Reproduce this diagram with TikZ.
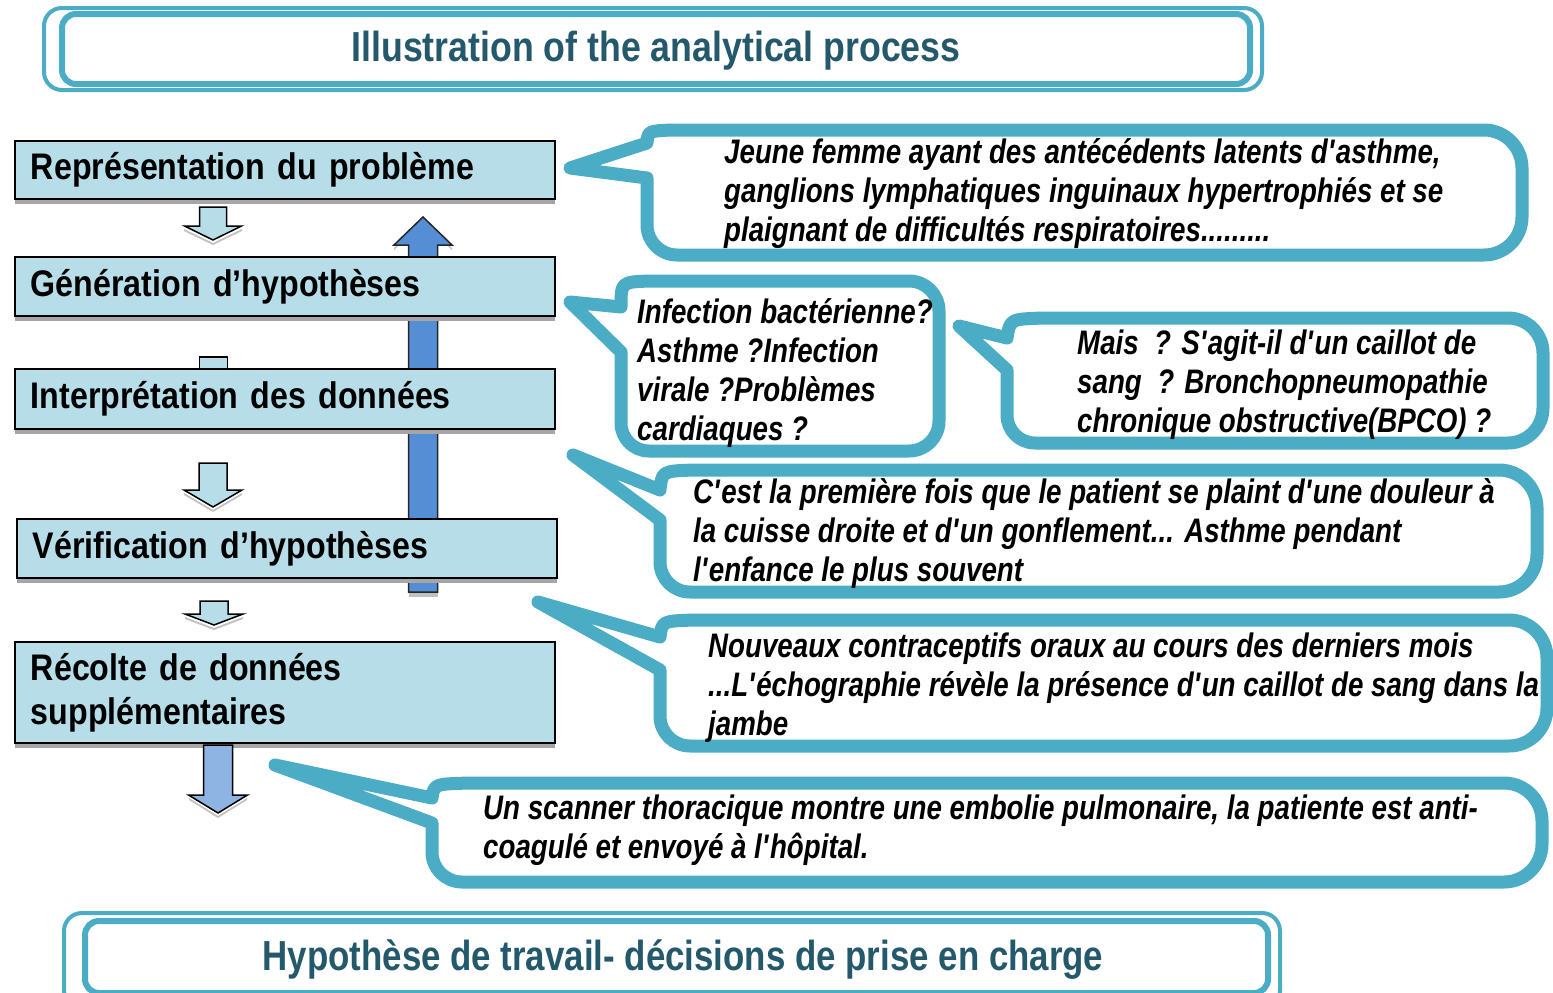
\documentclass[tikz,border=0pt]{standalone}
\usepackage{fontspec}
\usetikzlibrary{shadows}
\newfontfamily\titlefont[FakeStretch=0.85]{Liberation Sans}
\newfontfamily\bottomfont[FakeStretch=0.83]{Liberation Sans}
\newfontfamily\boxfont[FakeStretch=0.87,WordSpace=0.8]{Liberation Sans}
\newfontfamily\callfont[FakeStretch=0.815]{Liberation Sans}
\newcommand{\apos}{\textquotesingle}
\definecolor{boxblue}{HTML}{B7DDE8}
\definecolor{calloutblue}{HTML}{4BACC6}
\definecolor{titleteal}{HTML}{23596B}
\definecolor{arrowblue}{HTML}{558ED5}
\definecolor{arrowlight}{HTML}{8DB4E2}
\definecolor{shadowgray}{HTML}{A6A6A6}
\begin{document}
\begin{tikzpicture}[x=1pt,y=-1pt,
  stepbox/.style={anchor=north west, minimum width=540pt, text width=508pt,
    inner xsep=16pt, inner ysep=0pt, align=left, fill=boxblue, draw=black,
    line width=1.8pt, font=\boxfont\bfseries\fontsize{37}{44}\selectfont,
    drop shadow={shadow xshift=0pt, shadow yshift=-5pt, fill=shadowgray, opacity=1}},
  titletext/.style={inner sep=0pt, text=titleteal, font=\titlefont\bfseries\fontsize{42}{48}\selectfont},
  frameout/.style={draw=calloutblue, line width=4pt, rounded corners=18pt},
  framein/.style={draw=calloutblue, line width=6pt, rounded corners=14pt},
  callout/.style={draw=calloutblue, line width=13pt, fill=white, line join=round},
  calltext/.style={anchor=north west, inner sep=0pt, align=left,
    font=\callfont\bfseries\itshape\fontsize{34}{39}\selectfont},
  downarrow/.style={fill=boxblue, draw=black, line width=1.5pt},
  arrowshadow/.style={fill=shadowgray!70},
  uparrow/.style={fill=arrowblue, draw=black!85, line width=1.5pt}
]
\clip (0,0) rectangle (1553,993);
\fill[white] (0,0) rectangle (1553,993);

% title banner
\draw[frameout] (44,8) rectangle (1262,90);
\draw[framein] (62,14) rectangle (1250,84);
\node[titletext] (title) at (656,51) {Illustration of the analytical process};

% big up arrow (behind boxes)
\fill[arrowshadow] (408.5,592) rectangle (437.5,597);
\fill[arrowshadow] (394,248) -- (423,220) -- (452,248) -- (452,250) -- (423,222) -- (394,250) -- cycle;
\draw[uparrow] (408.5,592) -- (408.5,245) -- (394,245) -- (423,217) -- (452,245) -- (437.5,245) -- (437.5,592) -- cycle;

% stub of hidden arrow
\draw[downarrow] (199.5,357) rectangle (227.5,375);

% left boxes
\node[stepbox, minimum height=58pt] (b1) at (14,140) {Représentation du problème};
\node[stepbox, minimum height=59pt] (b2) at (14,256) {Génération d’hypothèses};
\node[stepbox, minimum height=60pt] (b3) at (14,368) {Interprétation des données};
\node[stepbox, minimum height=59pt] (b4) at (16,518) {Vérification d’hypothèses};
\node[stepbox, minimum height=101pt] (b5) at (14,641) {Récolte de données\\supplémentaires};

% hollow down arrows
\fill[arrowshadow] (184,229) -- (213,243) -- (242,229) -- (242,231) -- (213,245) -- (184,231) -- cycle;
\draw[downarrow] (199.5,207) -- (226.5,207) -- (226.5,226) -- (241.5,226) -- (213,240) -- (184.5,226) -- (199.5,226) -- cycle;
\fill[arrowshadow] (184,493) -- (213,510) -- (242,493) -- (242,495) -- (213,512) -- (184,495) -- cycle;
\draw[downarrow] (199,463) -- (227,463) -- (227,490) -- (242,490) -- (213,507) -- (184,490) -- (199,490) -- cycle;
\fill[arrowshadow] (185,617) -- (214,628) -- (243,617) -- (243,619) -- (214,630) -- (185,619) -- cycle;
\draw[downarrow] (200,601) -- (228,601) -- (228,614) -- (243,614) -- (214,625) -- (185,614) -- (200,614) -- cycle;
\fill[arrowshadow] (189,798) -- (218,816) -- (247,798) -- (247,800) -- (218,818) -- (189,800) -- cycle;
\draw[downarrow, fill=arrowlight] (203.5,745) -- (232.5,745) -- (232.5,795) -- (247.5,795) -- (218,813) -- (188.5,795) -- (203.5,795) -- cycle;

% callouts
\draw[callout, rounded corners=30pt] (1000,255) -- (647,255) [sharp corners] -- (647,178) -- (570,168) -- (647,143) .. controls (648,131) .. (672,130) [rounded corners=38pt] -- (1522,130) -- (1522,255) -- cycle;
\draw[callout, rounded corners=28pt] (780,451) -- (621,451) [sharp corners] -- (621,352) -- (570,302) -- (621,307) .. controls (621,282) .. (650,281) [rounded corners=30pt] -- (939,281) -- (939,451) -- cycle;
\draw[callout, rounded corners=28pt] (1300,443) -- (1007,443) [sharp corners] -- (1007,370) -- (959,326) -- (1007,338) .. controls (1010,319) .. (1045,318) [rounded corners=35pt] -- (1543,318) -- (1543,443) -- cycle;
\draw[callout, rounded corners=30pt] (1100,592) -- (660,592) [sharp corners] -- (660,520) -- (573,455) -- (660,490) .. controls (662,471) .. (695,470) [rounded corners=38pt] -- (1537,470) -- (1537,592) -- cycle;
\draw[callout, rounded corners=30pt] (1100,746) -- (660,746) [sharp corners] -- (660,670) -- (538,602) -- (660,637) .. controls (662,621) .. (695,620) [rounded corners=38pt] -- (1547,620) -- (1547,746) -- cycle;
\draw[callout, rounded corners=30pt] (900,882) -- (432,882) [sharp corners] -- (432,823) -- (275,765) -- (432,798) .. controls (434,784) .. (470,783) [rounded corners=38pt] -- (1542,783) -- (1542,882) -- cycle;

% callout texts
\node[calltext] (t1) at (724,135.7) {\strut Jeune femme ayant des antécédents latents d\apos asthme,\\\strut ganglions lymphatiques inguinaux hypertrophiés et se\\\strut plaignant de difficultés respiratoires.........};
\node[calltext] (t2) at (637,295.7) {\strut Infection bactérienne?\\\strut Asthme ?Infection\\\strut virale ?Problèmes\\\strut cardiaques ?};
\node[calltext] (t3) at (1077,326.7) {\strut Mais \ ? S\apos agit-il d\apos un caillot de\\\strut sang \ ? Bronchopneumopathie\\\strut chronique obstructive(BPCO) ?};
\node[calltext] (t4) at (693,475.7) {\strut C\apos est la première fois que le patient se plaint d\apos une douleur à\\\strut la cuisse droite et d\apos un gonflement... Asthme pendant\\\strut l\apos enfance le plus souvent};
\node[calltext] (t5) at (708,629.7) {\strut Nouveaux contraceptifs oraux au cours des derniers mois\\\strut ...L\apos échographie révèle la présence d\apos un caillot de sang dans la\\\strut jambe};
\node[calltext] (t6) at (483,791.7) {\strut Un scanner thoracique montre une embolie pulmonaire, la patiente est anti-\\\strut coagulé et envoyé à l\apos hôpital.};

% bottom banner
\draw[frameout] (64,913) rectangle (1280,1008);
\draw[framein] (85,921) rectangle (1268,993);
\node[titletext, font=\bottomfont\bfseries\fontsize{42}{48}\selectfont] (bottom) at (683,960) {Hypothèse de travail- décisions de prise en charge};
\end{tikzpicture}
\end{document}
